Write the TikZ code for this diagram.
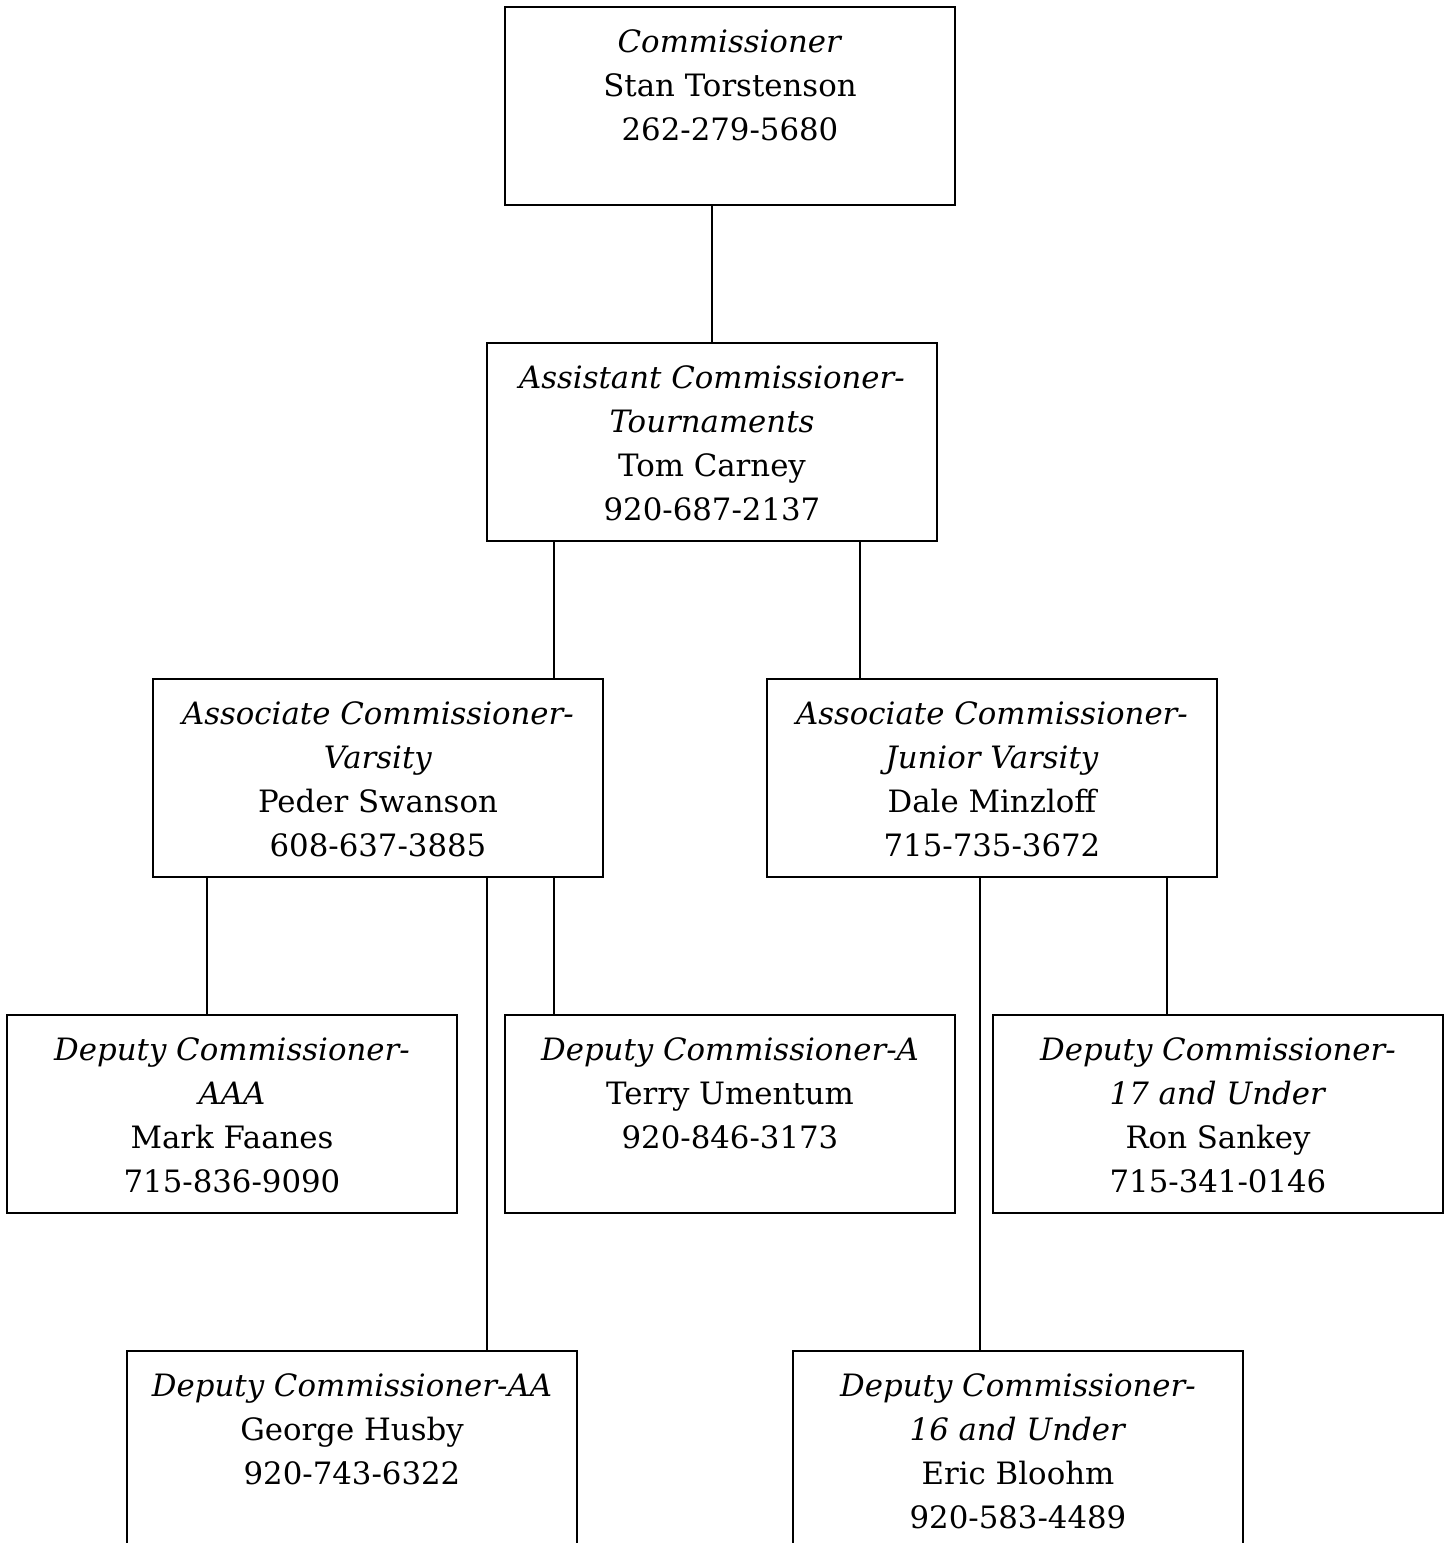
\documentclass[tikz,border=0pt]{standalone}
\usepackage{fontspec}
\setmainfont{DejaVu Serif}
\usetikzlibrary{positioning}

\tikzset{
  post/.style={draw, line width=1pt, inner sep=0pt},
  link/.style={line width=1pt}
}
\newcommand{\postlines}[1]{\parbox[c][99pt][t]{225pt}{\centering\fontsize{15.4}{22}\selectfont\rule{0pt}{22.5pt}#1}}

\begin{document}
\begin{tikzpicture}[x=0.5pt, y=-0.5pt]
    \useasboundingbox (0,0) rectangle (1448,1543);

    \node [post] (comm) at (730,106) {\postlines{\textit{Commissioner}\\Stan Torstenson\\262-279-5680}};
    \node [post] (asst) at (712,442) {\postlines{\textit{Assistant Commissioner-}\\\textit{Tournaments}\\Tom Carney\\920-687-2137}};

    \node [post] (varsity) at (378,778) {\postlines{\textit{Associate Commissioner-}\\\textit{Varsity}\\Peder Swanson\\608-637-3885}};
    \node [post] (jv) at (992,778) {\postlines{\textit{Associate Commissioner-}\\\textit{Junior Varsity}\\Dale Minzloff\\715-735-3672}};

    \node [post] (aaa) at (232,1114) {\postlines{\textit{Deputy Commissioner-}\\\textit{AAA}\\Mark Faanes\\715-836-9090}};
    \node [post] (a) at (730,1114) {\postlines{\textit{Deputy Commissioner-A}\\Terry Umentum\\920-846-3173}};
    \node [post] (u17) at (1218,1114) {\postlines{\textit{Deputy Commissioner-}\\\textit{17 and Under}\\Ron Sankey\\715-341-0146}};

    \node [post] (aa) at (352,1450) {\postlines{\textit{Deputy Commissioner-AA}\\George Husby\\920-743-6322}};
    \node [post] (u16) at (1018,1450) {\postlines{\textit{Deputy Commissioner-}\\\textit{16 and Under}\\Eric Bloohm\\920-583-4489}};

    \draw [link] (asst.north) -- (asst.north |- comm.south);

    \draw [link] (asst.south -| 554,0) -- (varsity.north -| 554,0);
    \draw [link] (asst.south -| 860,0) -- (jv.north -| 860,0);

    \draw [link] (varsity.south -| 207,0) -- (aaa.north -| 207,0);
    \draw [link] (varsity.south -| 554,0) -- (a.north -| 554,0);
    \draw [link] (varsity.south -| 487,0) -- (aa.north -| 487,0);

    \draw [link] (jv.south -| 1167,0) -- (u17.north -| 1167,0);
    \draw [link] (jv.south -| 980,0) -- (u16.north -| 980,0);
\end{tikzpicture}
\end{document}
